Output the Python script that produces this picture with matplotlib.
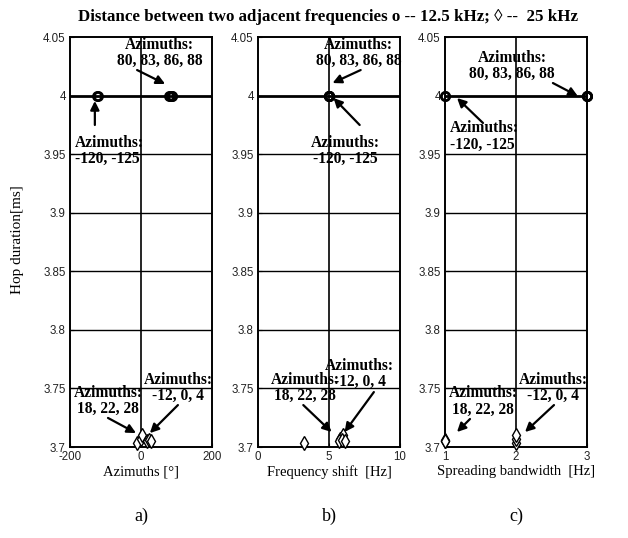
import matplotlib
matplotlib.use("Agg")
import matplotlib.pyplot as plt

plt.rcParams["axes.unicode_minus"] = False

# circles: 12.5 kHz spacing
circle_az = [80, 83, 86, 88, -120, -125]
circle_hop = [4.0, 4.0, 4.0, 4.0, 4.0, 4.0]
circle_fshift = [5.0, 5.0, 5.0, 5.0, 5.0, 5.0]
circle_bw = [3, 3, 3, 3, 1, 1]

# diamonds: 25 kHz spacing
diamond_az = [-12, 0, 4, 18, 22, 28]
diamond_hop = [3.703, 3.707, 3.710, 3.705, 3.706, 3.705]
diamond_fshift = [3.25, 5.8, 6.0, 5.7, 5.9, 6.1]
diamond_bw = [2, 2, 2, 1, 1, 1]

y_ticks = [3.7, 3.75, 3.8, 3.85, 3.9, 3.95, 4.0, 4.05]
y_labels = ["3.7", "3.75", "3.8", "3.85", "3.9", "3.95", "4", "4.05"]

panels = [
    dict(xs_c=circle_az, xs_d=diamond_az, xticks=[-200, 0, 200],
         xlabel="Azimuths [°]", tag="a)", left=70),
    dict(xs_c=circle_fshift, xs_d=diamond_fshift, xticks=[0, 5, 10],
         xlabel="Frequency shift  [Hz]", tag="b)", left=258),
    dict(xs_c=circle_bw, xs_d=diamond_bw, xticks=[1, 2, 3],
         xlabel="Spreading bandwidth  [Hz]", tag="c)", left=445),
]

# (text, text xy, arrow start, arrow tip, horizontal alignment) per panel
notes = [
    [("Azimuths:\n80, 83, 86, 88", (53, 4.0363), (-11, 4.0218), (68, 4.0099), "center"),
     ("Azimuths:\n-120, -125", (-186, 3.9531), (-130, 3.9749), (-130, 3.9954), "left"),
     ("Azimuths:\n18, 22, 28", (-93, 3.7393), (-93, 3.7248), (-14, 3.7119), "center"),
     ("Azimuths:\n-12, 0, 4", (104, 3.7504), (104, 3.7358), (25, 3.7119), "center")],
    [("Azimuths:\n80, 83, 86, 88", (7.09, 4.0363), (7.23, 4.0218), (5.25, 4.0107), "center"),
     ("Azimuths:\n-120, -125", (6.17, 3.9531), (7.16, 3.9749), (5.32, 3.9979), "center"),
     ("Azimuths:\n18, 22, 28", (3.33, 3.7504), (3.19, 3.7358), (5.18, 3.7128), "center"),
     ("Azimuths:\n-12, 0, 4", (7.16, 3.7627), (8.16, 3.7469), (6.10, 3.7128), "center")],
    [("Azimuths:\n80, 83, 86, 88", (1.944, 4.0252), (2.52, 4.0107), (2.87, 3.9996), "center"),
     ("Azimuths:\n-120, -125", (1.07, 3.9651), (1.535, 3.9766), (1.17, 3.9979), "left"),
     ("Azimuths:\n18, 22, 28", (1.535, 3.7389), (1.352, 3.7239), (1.169, 3.7128), "center"),
     ("Azimuths:\n-12, 0, 4", (2.521, 3.7504), (2.535, 3.7358), (2.127, 3.7128), "center")],
]

serif = ["Liberation Serif", "DejaVu Serif"]
W, H = 628, 538
fig = plt.figure(figsize=(W / 100, H / 100), dpi=100)

for p, pn in zip(panels, notes):
    ax = fig.add_axes([p["left"] / W, (H - 447) / H, 142 / W, 410 / H])
    ax.set_xlim(p["xticks"][0], p["xticks"][-1])
    ax.set_ylim(3.7, 4.05)
    ax.set_xticks(p["xticks"])
    ax.set_yticks(y_ticks)
    ax.set_yticklabels(y_labels)
    ax.tick_params(direction="in", length=3, width=0.8, labelsize=8.3,
                   labelcolor="#222222", pad=3,
                   labelfontfamily="Liberation Sans")
    for s in ax.spines.values():
        s.set_linewidth(1.4)

    # horizontal grid at every tick, 4.0 drawn heavier
    for yv in y_ticks[1:-1]:
        ax.axhline(yv, color="k", lw=2.0 if yv == 4.0 else 1.0, zorder=1)
    ax.axvline(p["xticks"][1], color="k", lw=1.2, zorder=1)

    ax.plot(p["xs_c"], circle_hop, "o", ms=6, mfc="none", mec="k", mew=1.8,
            clip_on=False, zorder=3)
    ax.plot(p["xs_d"], diamond_hop, "d", ms=7, mfc="white", mec="k", mew=1.0,
            clip_on=False, zorder=3)

    for txt, xyt, start, tip, ha in pn:
        ax.text(xyt[0], xyt[1], txt, ha=ha, va="center", fontsize=11.2,
                fontweight="bold", family=serif, linespacing=1.0, zorder=4)
        ax.annotate("", xy=tip, xytext=start,
                    arrowprops=dict(arrowstyle="-|>", color="k", lw=1.6,
                                    mutation_scale=13, shrinkA=0, shrinkB=0),
                    zorder=4)

    cx = (p["left"] + 71) / W
    fig.text(cx, 1 - 472 / H, p["xlabel"], ha="center", va="center",
             fontsize=10.5, family=serif)
    fig.text(cx, 1 - 516 / H, p["tag"], ha="center", va="center",
             fontsize=13, family=serif)

fig.text(18 / W, 1 - 240 / H, "Hop duration[ms]", rotation=90, ha="center",
         va="center", fontsize=11, family=serif)
fig.text(328 / W, 1 - 17 / H,
         "Distance between two adjacent frequencies o -- 12.5 kHz; \u25ca --  25 kHz",
         ha="center", va="center", fontsize=12.2, fontweight="bold", family=serif)

fig.savefig("out.png", dpi=100)
